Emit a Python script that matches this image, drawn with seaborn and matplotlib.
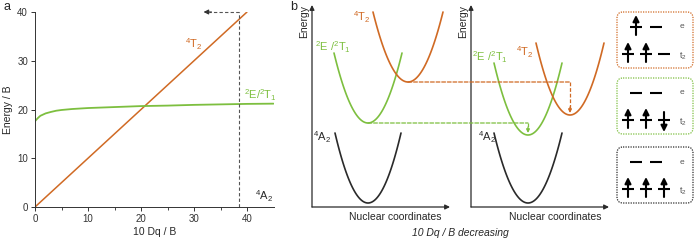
import matplotlib
matplotlib.use('Agg')

import numpy as np
import pandas as pd
import matplotlib.pyplot as plt
import seaborn as sns
from matplotlib.patches import FancyBboxPatch, ConnectionPatch

sns.set_style('ticks')
plt.rcParams['font.family'] = ['Liberation Sans', 'DejaVu Sans']
plt.rcParams['mathtext.fontset'] = 'custom'
plt.rcParams['mathtext.rm'] = 'Liberation Sans'
plt.rcParams['mathtext.it'] = 'Liberation Sans:italic'

ORANGE = '#d06a24'
GREEN = '#7dbf3f'
DARK = '#2a2a2a'

# ----------------------------------------------------
# data: panel a (Tanabe-Sugano)
# ----------------------------------------------------
dq_t2 = [0, 40]
e_t2 = [0, 40]
dq_e = [0, 0.5, 1, 2, 3, 4, 5, 7, 10, 15, 20, 25, 30, 35, 40, 45]
e_e = [17.6, 18.2, 18.7, 19.2, 19.5, 19.75, 19.9, 20.1, 20.3, 20.5, 20.7, 20.8, 20.95, 21.05, 21.15, 21.2]
dq_marker = 38.4
dq_arrow_end = 31.8

# ----------------------------------------------------
# data: panel b (parabola minimum position / energy, half width, rise; arbitrary units)
# order: 4A2, 2E/2T1, 4T2
# ----------------------------------------------------
curve_colors = [DARK, GREEN, ORANGE]
left_x0 = [56, 56, 96]
left_e0 = [4, 84, 125]
left_hw = [33, 34, 35]
left_rise = [70, 70, 70]
right_x0 = [57, 57, 99]
right_e0 = [4, 72, 92]
right_hw = [34, 34, 34]
right_rise = [70, 72, 72]

# electron configurations in the boxes
box_colors = [ORANGE, GREEN, DARK]
e_occ = [['up', ''], ['', ''], ['', '']]
t2_occ = [['up', 'up', ''], ['up', 'up', 'down'], ['up', 'up', 'up']]

fig = plt.figure(figsize=(6.94, 2.4), dpi=100)
W, H = 694, 240

# ----------------------------------------------------
# panel a
# ----------------------------------------------------
ax_a = fig.add_axes([35 / W, 33 / H, 238.5 / W, 195 / H])
df_t2 = pd.DataFrame({'dq': dq_t2, 'E': e_t2})
df_e = pd.DataFrame({'dq': dq_e, 'E': e_e})
sns.lineplot(data=df_t2, x='dq', y='E', color=ORANGE, lw=1.1, ax=ax_a)
sns.lineplot(data=df_e, x='dq', y='E', color=GREEN, lw=1.3, ax=ax_a)
ax_a.set_xlim(0, 45)
ax_a.set_ylim(0, 40)
ax_a.set_xticks([0, 10, 20, 30, 40])
ax_a.set_xticks([5, 15, 25, 35], minor=True)
ax_a.set_yticks([0, 10, 20, 30, 40])
ax_a.tick_params(labelsize=7, length=3, width=0.7, colors='#333333', pad=2)
ax_a.tick_params(which='minor', length=2, width=0.6)
ax_a.set_xlabel('10 Dq / B', fontsize=7.5, labelpad=2)
ax_a.set_ylabel('Energy / B', fontsize=7.5, labelpad=3)
for s in ['left', 'bottom']:
    ax_a.spines[s].set_linewidth(0.7)
    ax_a.spines[s].set_color('#333333')
sns.despine(ax=ax_a)

ax_a.plot([dq_marker, dq_marker], [0, 40], ls=(0, (3, 2)), color='#555555', lw=0.8, clip_on=False)
ax_a.plot([dq_marker, dq_arrow_end + 1], [40, 40], ls=(0, (3, 2)), color='#555555', lw=0.8, clip_on=False)
ax_a.annotate('', xy=(dq_arrow_end, 40), xytext=(dq_arrow_end + 1.5, 40),
              arrowprops=dict(arrowstyle='-|>', color='#333333', lw=0.8, mutation_scale=7,
                              shrinkA=0, shrinkB=0), annotation_clip=False)

ax_a.text(28.3, 33.4, r'$^4$T$_2$', color=ORANGE, fontsize=8, va='center')
ax_a.text(45.6, 23, r'$^2$E/$^2$T$_1$', color=GREEN, fontsize=8, ha='right', va='center')
ax_a.text(41.5, 2.3, r'$^4$A$_2$', color=DARK, fontsize=8, va='center')
fig.text(3 / W, 1 - 7 / H, 'a', fontsize=9, va='center')

# ----------------------------------------------------
# panel b
# ----------------------------------------------------
def config_axes(left_px, xlabel_x):
    ax = fig.add_axes([left_px / W, 33 / H, 138 / W, 202 / H])
    ax.set_xlim(0, 138)
    ax.set_ylim(0, 202)
    for s in ax.spines.values():
        s.set_visible(False)
    ax.set_xticks([])
    ax.set_yticks([])
    ax.patch.set_alpha(0)
    kw = dict(arrowstyle='-|>', color=DARK, lw=0.9, mutation_scale=7, shrinkA=0, shrinkB=0)
    ax.annotate('', xy=(1, 0), xytext=(0, 0), xycoords='axes fraction', arrowprops=kw)
    ax.annotate('', xy=(0, 1), xytext=(0, 0), xycoords='axes fraction', arrowprops=kw)
    ax.set_ylabel('Energy', fontsize=7.5, loc='top', labelpad=2)
    ax.set_xlabel('Nuclear coordinates', fontsize=7.5)
    ax.xaxis.set_label_coords(xlabel_x, -0.025)
    return ax


def draw_curves(ax, x0s, e0s, hws, rises):
    for x0, e0, hw, r, c in zip(x0s, e0s, hws, rises, curve_colors):
        x = np.linspace(x0 - hw, x0 + hw, 80)
        y = e0 + r * ((x - x0) / hw) ** 2
        sns.lineplot(x=x, y=y, color=c, lw=1.2, ax=ax)


ax_l = config_axes(312, 0.60)
ax_r = config_axes(471, 0.61)
draw_curves(ax_l, left_x0, left_e0, left_hw, left_rise)
draw_curves(ax_r, right_x0, right_e0, right_hw, right_rise)

ax_l.text(50, 190, r'$^4$T$_2$', color=ORANGE, fontsize=8, ha='center', va='center')
ax_l.text(21, 160, r'$^2$E /$^2$T$_1$', color=GREEN, fontsize=8, ha='center', va='center')
ax_l.text(10, 70, r'$^4$A$_2$', color=DARK, fontsize=8, ha='center', va='center')
ax_r.text(54, 155, r'$^4$T$_2$', color=ORANGE, fontsize=8, ha='center', va='center')
ax_r.text(19, 150, r'$^2$E /$^2$T$_1$', color=GREEN, fontsize=8, ha='center', va='center')
ax_r.text(16, 70, r'$^4$A$_2$', color=DARK, fontsize=8, ha='center', va='center')

# dashed connectors from left minima to right minima
for i in [1, 2]:
    c = curve_colors[i]
    y = left_e0[i]
    con = ConnectionPatch(xyA=(left_x0[i], y), coordsA=ax_l.transData,
                          xyB=(right_x0[i], y), coordsB=ax_r.transData,
                          ls=(0, (3, 1.5)), color=c, lw=0.9)
    fig.add_artist(con)
    ax_r.plot([right_x0[i], right_x0[i]], [y, right_e0[i] + 7], ls=(0, (3, 1.5)), color=c, lw=0.9)
    ax_r.annotate('', xy=(right_x0[i], right_e0[i] + 2), xytext=(right_x0[i], right_e0[i] + 8),
                  arrowprops=dict(arrowstyle='-|>', color=c, lw=0.9, mutation_scale=5,
                                  shrinkA=0, shrinkB=0))

fig.text(290 / W, 1 - 7 / H, 'b', fontsize=9, va='center')
fig.text(460 / W, 1 - 233 / H, '10 Dq / B decreasing', fontsize=7.5, style='italic',
         ha='center', va='center')

# ----------------------------------------------------
# electron configuration boxes
# ----------------------------------------------------
ax_box = fig.add_axes([612 / W, 30 / H, 82 / W, 205 / H])
ax_box.set_xlim(0, 82)
ax_box.set_ylim(205, 0)
ax_box.axis('off')

box_tops = [7, 73, 142]
e_x = [24, 44]
t2_x = [16, 34, 52]


def level(ax, x, y, occ):
    ax.plot([x - 6, x + 6], [y, y], color='k', lw=1.5, solid_capstyle='butt')
    if occ == '':
        return
    if occ == 'up':
        a, b = y + 8, y - 12
    else:
        a, b = y - 8, y + 12
    ax.annotate('', xy=(x, b), xytext=(x, a),
                arrowprops=dict(arrowstyle='-|>', color='k', lw=1.5, mutation_scale=9,
                                shrinkA=0, shrinkB=0))


for top, c, eo, to in zip(box_tops, box_colors, e_occ, t2_occ):
    ax_box.add_patch(FancyBboxPatch((5, top), 76, 56, boxstyle='round,pad=0,rounding_size=6',
                                    fc='none', ec=c, lw=0.9, ls=(0, (1, 1))))
    ye, yt = top + 15, top + 42
    for x, o in zip(e_x, eo):
        level(ax_box, x, ye, o)
    for x, o in zip(t2_x, to):
        level(ax_box, x, yt, o)
    ax_box.text(70, ye, 'e', fontsize=6, color='#555555', ha='center', va='center')
    ax_box.text(71, yt + 2, r't$_2$', fontsize=6.5, color='#555555', ha='center', va='center')

plt.savefig('out.png', dpi=100)
